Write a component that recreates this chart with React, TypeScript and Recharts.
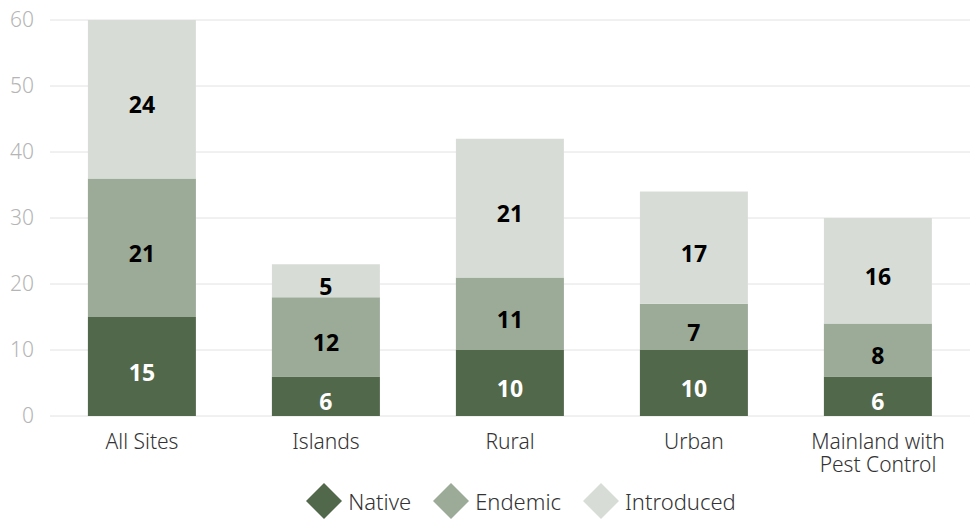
import { Bar, BarChart, CartesianGrid, LabelList, Legend, XAxis, YAxis } from "recharts";

const categories = ["All Sites", "Islands", "Rural", "Urban", "Mainland with Pest Control"];
const native = [15, 6, 10, 10, 6];
const endemic = [21, 12, 11, 7, 8];
const introduced = [24, 5, 21, 17, 16];
const yTicks = [0, 10, 20, 30, 40, 50, 60];

const data = categories.map((name, i) => ({
  name,
  native: native[i],
  endemic: endemic[i],
  introduced: introduced[i],
}));

const series = [
  { key: "native", label: "Native", color: "#51684b", text: "#ffffff" },
  { key: "endemic", label: "Endemic", color: "#9caa98", text: "#000000" },
  { key: "introduced", label: "Introduced", color: "#d7ddd6", text: "#000000" },
];

const font = "'Noto Sans', 'Open Sans', sans-serif";

function XTick({ x, y, payload }: any) {
  const words = String(payload.value) === "Mainland with Pest Control" ? ["Mainland with", "Pest Control"] : [payload.value];
  return (
    <g>
      {words.map((w: string, i: number) => (
        <text key={w} x={x} y={y + 25 + i * 23} textAnchor="middle" fill="#333" fontSize={21} fontFamily={font} fontWeight={300}>
          {w}
        </text>
      ))}
    </g>
  );
}

function makeLabel(color: string) {
  return ({ x, y, width, height, value }: any) => (
    <text
      x={x + width / 2}
      y={y + height / 2 + 5}
      textAnchor="middle"
      dominantBaseline="central"
      fill={color}
      fontSize={23}
      fontWeight={700}
      fontFamily={font}
    >
      {value}
    </text>
  );
}

function LegendContent() {
  return (
    <div
      style={{
        display: "flex",
        justifyContent: "center",
        gap: 22,
        paddingLeft: 72,
        paddingTop: 1,
        fontFamily: font,
        fontSize: 22,
        color: "#333",
      }}
    >
      {series.map((s) => (
        <div key={s.key} style={{ display: "flex", alignItems: "center", gap: 6 }}>
          <svg width={36} height={36}>
            <polygon points="18,0 36,18 18,36 0,18" fill={s.color} />
          </svg>
          <span style={{ fontWeight: 300 }}>{s.label}</span>
        </div>
      ))}
    </div>
  );
}

export default function App() {
  return (
    <div style={{ position: "absolute", left: 0, top: 0, background: "#fff" }}>
      <BarChart width={970} height={520} data={data} margin={{ top: 20, right: 0, left: 0, bottom: 0 }} barCategoryGap="20.6%">
        <CartesianGrid vertical={false} stroke="#e2e2e2" />
        <XAxis dataKey="name" axisLine={false} tickLine={false} tick={<XTick />} interval={0} height={66} />
        <YAxis
          ticks={yTicks}
          domain={[0, 60]}
          axisLine={false}
          tickLine={false}
          width={50}
          tick={{ fill: "#b5b5b5", fontSize: 21, fontFamily: font, fontWeight: 300 }}
          tickMargin={10}
        />
        <Legend content={<LegendContent />} verticalAlign="bottom" height={38} />
        {series.map((s) => (
          <Bar key={s.key} dataKey={s.key} stackId="a" fill={s.color} isAnimationActive={false}>
            <LabelList dataKey={s.key} content={makeLabel(s.text)} />
          </Bar>
        ))}
      </BarChart>
    </div>
  );
}
